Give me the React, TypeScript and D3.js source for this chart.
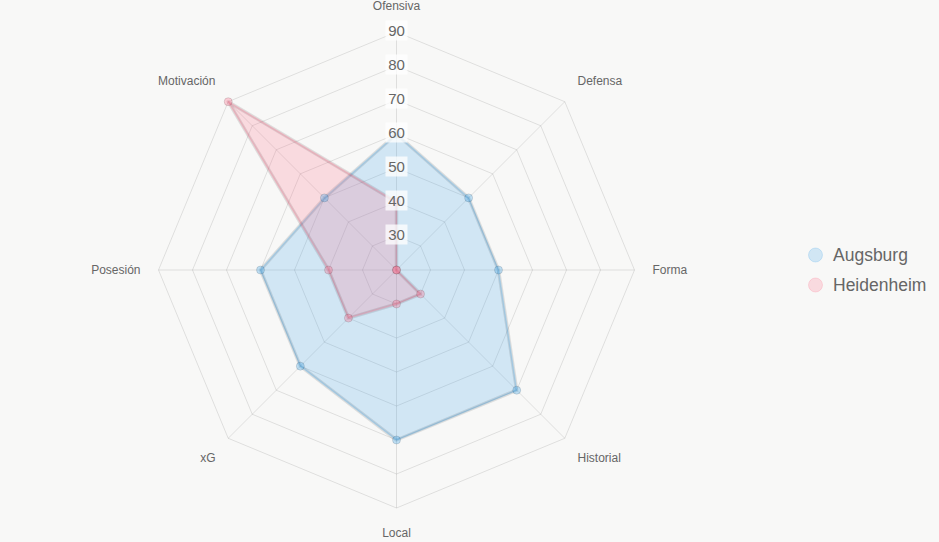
import { useEffect, useRef } from "react";
import * as d3 from "d3";

const axes = ["Ofensiva", "Defensa", "Forma", "Historial", "Local", "xG", "Posesión", "Motivación"];
const augsburg = [60, 50, 50, 70, 70, 60, 60, 50];
const heidenheim = [40, 20, 20, 30, 30, 40, 40, 90];
const ticks = [30, 40, 50, 60, 70, 80, 90];

const series = [
  { name: "Augsburg", values: augsburg, fill: "rgba(54,162,235,0.2)", line: "rgba(54,162,235,0.25)", dot: "rgba(54,162,235,0.3)" },
  { name: "Heidenheim", values: heidenheim, fill: "rgba(255,99,132,0.2)", line: "rgba(255,99,132,0.25)", dot: "rgba(255,99,132,0.3)" },
];

const W = 939;
const H = 542;
const cx = 396.5;
const cy = 270;
const R = 238;
const FONT = "'Helvetica Neue', Helvetica, Arial, 'Liberation Sans', sans-serif";

export default function App() {
  const svgRef = useRef<SVGSVGElement>(null);

  useEffect(() => {
    if (!svgRef.current) return;
    const svg = d3.select(svgRef.current);
    svg.selectAll("*").remove();

    svg.append("rect").attr("width", W).attr("height", H).attr("fill", "#f8f8f7");

    const r = d3.scaleLinear().domain([20, 90]).range([0, R]);
    const angle = d3.scalePoint<string>().domain(axes).range([0, 2 * Math.PI * (axes.length - 1) / axes.length]);
    const pt = (a: string, v: number): [number, number] => {
      const t = angle(a) ?? 0;
      return [cx + r(v) * Math.sin(t), cy - r(v) * Math.cos(t)];
    };

    const g = svg.append("g");

    // grid rings
    ticks.forEach((t) => {
      g.append("path")
        .attr("d", d3.line()(axes.map((a) => pt(a, t))) + "Z")
        .attr("fill", "none")
        .attr("stroke", "rgba(0,0,0,0.1)")
        .attr("stroke-width", 1);
    });

    // angle lines
    axes.forEach((a) => {
      const [x, y] = pt(a, 90);
      g.append("line")
        .attr("x1", cx).attr("y1", cy).attr("x2", x).attr("y2", y)
        .attr("stroke", "rgba(0,0,0,0.1)")
        .attr("stroke-width", 1);
    });

    // point labels
    axes.forEach((a) => {
      const t = angle(a) ?? 0;
      const s = Math.sin(t);
      const c = Math.cos(t);
      const d = R + 18;
      const x = cx + d * s;
      const y = cy - d * c;
      const anchor = Math.abs(s) < 0.01 ? "middle" : s > 0 ? "start" : "end";
      const dy = Math.abs(c) < 0.01 ? "0.3em" : c > 0 ? "-0.3em" : "0.9em";
      g.append("text")
        .attr("x", x).attr("y", y)
        .attr("dy", dy)
        .attr("text-anchor", anchor)
        .attr("font-family", FONT)
        .attr("font-size", 12)
        .attr("fill", "#666")
        .text(a);
    });

    // datasets
    const line = d3.line<[number, number]>().curve(d3.curveLinearClosed);
    series.forEach((sr) => {
      const pts = axes.map((a, i) => pt(a, sr.values[i]));
      g.append("path")
        .attr("d", line(pts))
        .attr("fill", sr.fill)
        .attr("stroke", "rgba(0,0,0,0.1)")
        .attr("stroke-width", 3.5)
        .attr("stroke-linejoin", "round");
      g.append("path")
        .attr("d", line(pts))
        .attr("fill", "none")
        .attr("stroke", sr.line)
        .attr("stroke-width", 1.5)
        .attr("stroke-linejoin", "round");
    });
    series.forEach((sr) => {
      axes.forEach((a, i) => {
        const [x, y] = pt(a, sr.values[i]);
        g.append("circle")
          .attr("cx", x).attr("cy", y).attr("r", 4)
          .attr("fill", sr.dot)
          .attr("stroke", "rgba(0,0,0,0.12)")
          .attr("stroke-width", 1);
      });
    });

    // tick labels with backdrop
    ticks.forEach((t) => {
      const y = cy - r(t) - 1.5;
      const label = String(t);
      g.append("rect")
        .attr("x", cx - 11).attr("y", y - 10)
        .attr("width", 22).attr("height", 20)
        .attr("fill", "rgba(255,255,255,0.75)");
      g.append("text")
        .attr("x", cx).attr("y", y)
        .attr("dy", "0.36em")
        .attr("text-anchor", "middle")
        .attr("font-family", FONT)
        .attr("font-size", 15)
        .attr("fill", "#666")
        .text(label);
    });

    // legend
    const lg = svg.append("g");
    series.forEach((sr, i) => {
      const y = 255 + i * 30;
      lg.append("circle")
        .attr("cx", 815.5).attr("cy", y).attr("r", 7)
        .attr("fill", sr.fill)
        .attr("stroke", sr.fill)
        .attr("stroke-width", 1);
      lg.append("text")
        .attr("x", 833).attr("y", y)
        .attr("dy", "0.35em")
        .attr("font-family", FONT)
        .attr("font-size", 17.5)
        .attr("fill", "#666")
        .text(sr.name);
    });
  }, []);

  return (
    <div style={{ position: "fixed", left: 0, top: 0, width: W, height: H }}>
      <svg ref={svgRef} width={W} height={H} style={{ display: "block" }} />
    </div>
  );
}
